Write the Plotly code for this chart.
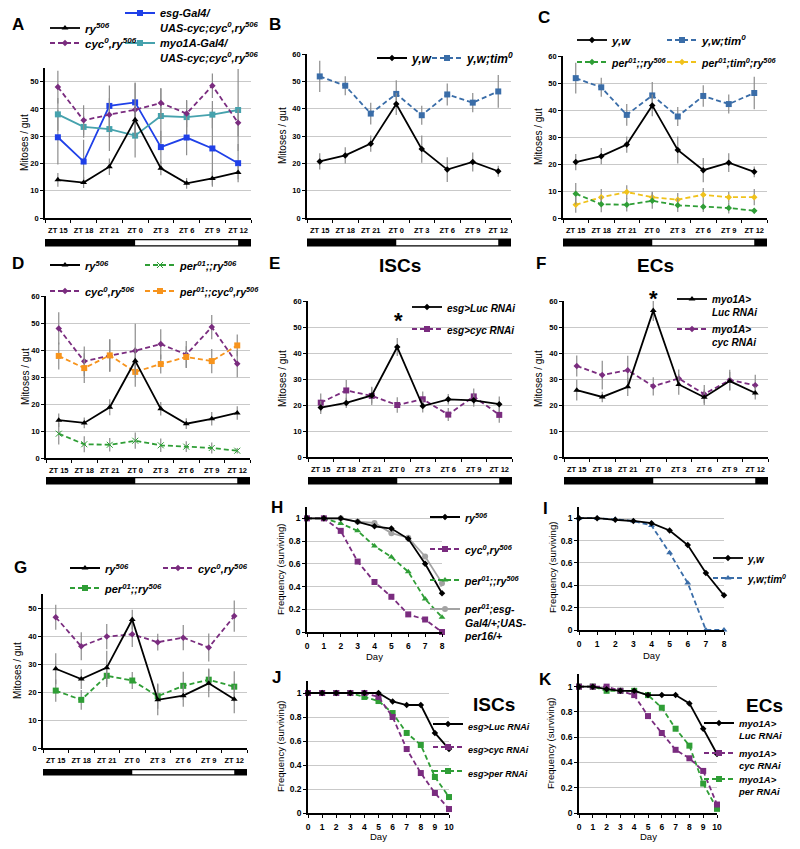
import plotly.graph_objects as go

# ---------------- DATA ----------------
ZT_LABELS = ["ZT 15", "ZT 18", "ZT 21", "ZT 0", "ZT 3", "ZT 6", "ZT 9", "ZT 12"]
LIGHTS_ON = "ZT 0"
LIGHTS_OFF = "ZT 12"

# A / D : ry506, cyc0
RY506 = [14.0, 13.0, 18.8, 36.0, 18.2, 12.7, 14.5, 16.7]
RY506_ERR = [2.5, 2.0, 3.0, 5.0, 2.5, 2.0, 2.5, 2.5]
CYC0 = [48.0, 35.8, 37.9, 39.7, 42.2, 38.3, 48.5, 34.9]
CYC0_ERR = [6.0, 5.5, 6.0, 10.0, 5.5, 5.0, 4.5, 5.0]
# A : rescues
ESG_RESCUE = [29.6, 20.7, 41.1, 42.4, 26.0, 29.5, 25.5, 20.1]
ESG_RESCUE_ERR = [10.0, 8.0, 7.5, 7.0, 6.0, 6.5, 14.0, 7.0]
MYO_RESCUE = [38.0, 33.4, 32.6, 30.2, 37.4, 37.0, 37.9, 39.6]
MYO_RESCUE_ERR = [6.0, 4.0, 8.0, 8.0, 10.0, 6.0, 5.0, 15.0]
# B / C
YW = [20.7, 22.9, 27.2, 41.7, 25.2, 17.7, 20.5, 17.1]
YW_ERR = [3.0, 3.0, 3.0, 4.0, 5.0, 4.5, 3.5, 2.0]
TIM0 = [51.8, 48.4, 38.2, 45.4, 37.6, 45.2, 42.2, 46.3]
TIM0_ERR = [5.7, 3.5, 4.0, 5.0, 3.5, 4.0, 3.5, 6.0]
PER01 = [9.0, 5.1, 4.9, 6.4, 4.7, 4.2, 3.7, 2.7]
PER01_ERR = [4.0, 3.0, 2.5, 3.0, 2.5, 2.0, 2.0, 1.0]
PER01_TIM0 = [4.9, 7.7, 9.6, 7.7, 6.8, 8.6, 7.7, 7.7]
PER01_TIM0_ERR = [3.0, 3.0, 2.5, 2.0, 2.5, 2.5, 2.0, 3.0]
# D
PER01_CYC0 = [37.8, 33.3, 38.0, 31.9, 34.8, 37.4, 35.9, 41.7]
PER01_CYC0_ERR = [5.0, 5.5, 6.0, 5.5, 3.5, 4.0, 4.5, 4.0]
# E
E_LUC = [19.0, 20.8, 23.7, 42.3, 19.6, 22.2, 21.8, 20.3]
E_LUC_ERR = [2.5, 2.0, 3.0, 3.5, 2.5, 2.0, 2.5, 3.0]
E_CYC = [20.9, 25.6, 23.5, 20.0, 22.2, 16.3, 23.3, 16.2]
E_CYC_ERR = [3.5, 4.0, 3.5, 3.0, 3.0, 2.5, 3.0, 3.0]
# F
F_LUC = [25.7, 23.1, 27.0, 56.3, 27.9, 23.0, 29.2, 24.6]
F_LUC_ERR = [4.0, 2.0, 3.5, 4.0, 4.0, 3.0, 3.5, 2.5]
F_CYC = [35.0, 31.5, 33.4, 27.2, 30.2, 24.2, 29.6, 27.6]
F_CYC_ERR = [4.0, 5.5, 5.5, 3.5, 3.5, 3.5, 4.0, 4.0]
# G
G_RY506 = [28.3, 24.6, 28.7, 45.9, 17.2, 18.7, 23.1, 17.4]
G_RY506_ERR = [5.5, 3.5, 6.0, 3.5, 5.5, 4.0, 5.0, 5.0]
G_CYC0 = [46.7, 36.3, 39.8, 40.6, 37.8, 39.4, 35.9, 47.1]
G_CYC0_ERR = [4.5, 5.0, 4.5, 4.5, 3.0, 4.5, 5.0, 5.6]
G_PER01 = [20.5, 17.2, 25.8, 24.1, 18.5, 22.2, 24.4, 21.9]
G_PER01_ERR = [4.0, 3.5, 4.0, 3.0, 4.5, 5.0, 4.0, 5.5]

# survival
DAYS_8 = [0, 1, 2, 3, 4, 5, 6, 7, 8]
DAYS_10 = [0, 1, 2, 3, 4, 5, 6, 7, 8, 9, 10]
H_RY506 = [1, 1, 1, 0.97, 0.93, 0.91, 0.82, 0.60, 0.34]
H_CYC0 = [1, 1, 0.89, 0.62, 0.44, 0.31, 0.155, 0.11, 0.0]
H_PER01 = [1, 1, 0.955, 0.89, 0.757, 0.66, 0.53, 0.29, 0.13]
H_RESCUE = [1, 1, 1, 0.97, 0.96, 0.87, 0.83, 0.665, 0.43]
I_YW = [1, 1, 0.985, 0.975, 0.955, 0.89, 0.76, 0.51, 0.31]
I_TIM0 = [1, 1, 0.99, 0.975, 0.935, 0.69, 0.42, 0.0, 0.0]
J_LUC = [1, 1, 1, 1, 1, 1, 0.93, 0.90, 0.90, 0.667, 0.533]
J_CYC = [1, 1, 1, 1, 1, 0.967, 0.80, 0.533, 0.333, 0.167, 0.033]
J_PER = [1, 1, 1, 1, 0.967, 0.933, 0.833, 0.667, 0.567, 0.30, 0.133]
K_LUC = [1, 1, 0.98, 0.967, 0.967, 0.933, 0.933, 0.933, 0.867, 0.667, 0.467]
K_CYC = [1, 1, 1, 0.967, 0.933, 0.767, 0.633, 0.50, 0.433, 0.333, 0.067]
K_PER = [1, 1, 0.967, 0.967, 0.967, 0.933, 0.833, 0.667, 0.533, 0.233, 0.033]

# ---------------- STYLE / LAYOUT ----------------
W, H = 800, 849
FONT = "Liberation Sans"
BLACK = "#000000"
PURPLE = "#7a2c7f"
BLUE = "#1f40e8"
TEAL = "#46a2ad"
STEEL = "#3a6da8"
GREEN = "#2f9e36"
YELLOW = "#f0c21c"
ORANGE = "#f7941d"
GRAY = "#a3a3a3"
ERR = "#8c8c8c"
DASH = "5px,3px"

ZT_POS = list(range(len(ZT_LABELS)))

layout = dict(width=W, height=H, margin=dict(l=0, r=0, t=0, b=0, autoexpand=False),
              paper_bgcolor="white", plot_bgcolor="white", showlegend=True,
              shapes=[], annotations=[], font=dict(family=FONT, color="black"))
traces = []


def xd(a, b):
    return [a / W, b / W]


def yd(top, bot):
    return [1 - bot / H, 1 - top / H]


axis_n = [0]


def add_axes(x0, x1, ytop, ybot, xrange, yrange, kind):
    axis_n[0] += 1
    n = axis_n[0]
    s = "" if n == 1 else str(n)
    tf = dict(family=FONT, size=7.5 if kind == "zt" else 8.5, color="black", weight="bold")
    xa = dict(domain=xd(x0, x1), anchor="y" + s, range=xrange, showgrid=False, zeroline=False,
              showline=True, linecolor="black", linewidth=1.6, tickfont=tf, fixedrange=True)
    ya = dict(domain=yd(ytop, ybot), anchor="x" + s, range=yrange, showgrid=True,
              gridcolor="#c9c9c9", gridwidth=1, zeroline=False, showline=True,
              linecolor="black", linewidth=1.6, ticks="outside", ticklen=3,
              tickcolor="black", tickwidth=1, tickfont=tf, fixedrange=True)
    if kind == "zt":
        bounds = [p - 0.5 for p in ZT_POS] + [ZT_POS[-1] + 0.5]
        xa.update(tickmode="array", tickvals=ZT_POS, ticktext=ZT_LABELS, ticks="outside",
                  ticklen=0, ticklabelstandoff=4,
                  minor=dict(tickmode="array", tickvals=bounds, ticks="outside",
                             ticklen=3, tickcolor="black", showgrid=False))
        ya.update(tick0=0, dtick=10)
    else:
        xa.update(tick0=0, dtick=1, ticks="outside", ticklen=3, tickcolor="black",
                  ticklabelstandoff=2)
        ya.update(tickmode="array", tickvals=[0, 0.2, 0.4, 0.6, 0.8, 1.0],
                  ticktext=["0", "0.2", "0.4", "0.6", "0.8", "1"])
    layout["xaxis" + s] = xa
    layout["yaxis" + s] = ya
    return ("x" + s, "y" + s)


leg_n = [0]


def new_legend(text_x, line_y, size):
    leg_n[0] += 1
    key = "legend" if leg_n[0] == 1 else "legend%d" % leg_n[0]
    top = line_y - (6.5 + 0.65 * size)
    layout[key] = dict(x=(text_x - 40) / W, y=1 - top / H, xanchor="left", yanchor="top",
                       bgcolor="rgba(0,0,0,0)", borderwidth=0, itemwidth=30, valign="top",
                       font=dict(family=FONT, size=size, color="black"),
                       itemclick=False, itemdoubleclick=False)
    return key


def nm(t):
    return "<b><i>" + t + "</i></b>"


def series(ax, x, y, err, name, color, symbol, dash, legend, msize=6, width=1.8):
    tr = dict(x=x, y=y, xaxis=ax[0], yaxis=ax[1], mode="lines+markers", name=nm(name),
              line=dict(color=color, width=width, dash=dash),
              marker=dict(symbol=symbol, size=msize, color=color, line=dict(width=0)),
              legend=legend, cliponaxis=False, showlegend=True)
    if err is not None:
        tr["error_y"] = dict(type="data", array=err, color=ERR, thickness=1.2, width=0)
    traces.append(go.Scatter(**tr))


def ld_bar(ax, top, bot):
    x0 = ZT_POS[0] - 0.5
    x1 = ZT_POS[-1] + 0.5
    on = ZT_LABELS.index(LIGHTS_ON)
    off = ZT_LABELS.index(LIGHTS_OFF)
    layout["shapes"].append(dict(type="rect", xref=ax[0], yref="paper", x0=x0, x1=x1,
                                 y0=1 - bot / H, y1=1 - top / H, fillcolor="black",
                                 line=dict(width=0), layer="above"))
    layout["shapes"].append(dict(type="rect", xref=ax[0], yref="paper", x0=on, x1=off,
                                 y0=1 - (bot - 1.3) / H, y1=1 - (top + 1.3) / H,
                                 fillcolor="white", line=dict(width=0), layer="above"))


def ann(x, y, text, size, angle=0, bold=True):
    layout["annotations"].append(dict(
        x=x / W, y=1 - y / H, xref="paper", yref="paper", text=text, showarrow=False,
        xanchor="center", yanchor="middle", textangle=angle,
        font=dict(family=FONT, size=size, color="black", weight="bold" if bold else "normal")))


RY = "ry<sup>506</sup>"
CYC = "cyc<sup>0</sup>,ry<sup>506</sup>"
PER = "per<sup>01</sup>;;ry<sup>506</sup>"

# ---- Panel A ----
axA = add_axes(45, 251, 68, 218, [-0.5, 7.5], [0, 55], "zt")
series(axA, ZT_POS, ESG_RESCUE, ESG_RESCUE_ERR, "esg-Gal4/<br>UAS-cyc;" + CYC, BLUE, "square", None, new_legend(160, 13, 11))
series(axA, ZT_POS, MYO_RESCUE, MYO_RESCUE_ERR, "myo1A-Gal4/<br>UAS-cyc;" + CYC, TEAL, "square", None, new_legend(160, 43, 11))
series(axA, ZT_POS, CYC0, CYC0_ERR, CYC, PURPLE, "diamond", DASH, new_legend(85, 43, 11.5), msize=5)
series(axA, ZT_POS, RY506, RY506_ERR, RY, BLACK, "triangle-up", None, new_legend(85, 28, 11.5))
ld_bar(axA, 239, 246.5)

# ---- Panel B ----
axB = add_axes(307, 511, 54, 218, [-0.5, 7.5], [0, 60], "zt")
series(axB, ZT_POS, TIM0, TIM0_ERR, "y,w;tim<sup>0</sup>", STEEL, "square", DASH, new_legend(467, 58, 12))
series(axB, ZT_POS, YW, YW_ERR, "y,w", BLACK, "diamond", None, new_legend(412, 58, 12), msize=5)
ld_bar(axB, 238.5, 246.5)

# ---- Panel C ----
axC = add_axes(563, 767, 56, 218, [-0.5, 7.5], [0, 60], "zt")
series(axC, ZT_POS, TIM0, TIM0_ERR, "y,w;tim<sup>0</sup>", STEEL, "square", DASH, new_legend(702, 40, 11.5))
series(axC, ZT_POS, YW, YW_ERR, "y,w", BLACK, "diamond", None, new_legend(612, 40, 11.5), msize=5)
series(axC, ZT_POS, PER01_TIM0, PER01_TIM0_ERR, "per<sup>01</sup>;tim<sup>0</sup>;ry<sup>506</sup>", YELLOW, "diamond", DASH, new_legend(702, 62, 10.5), msize=5)
series(axC, ZT_POS, PER01, PER01_ERR, PER, GREEN, "diamond", DASH, new_legend(612, 62, 10.5), msize=5)
ld_bar(axC, 238.5, 246.5)

# ---- Panel D ----
axD = add_axes(46, 250, 296, 458, [-0.5, 7.5], [0, 60], "zt")
series(axD, ZT_POS, CYC0, CYC0_ERR, CYC, PURPLE, "diamond", DASH, new_legend(85, 291, 11), msize=5)
series(axD, ZT_POS, PER01_CYC0, PER01_CYC0_ERR, "per<sup>01</sup>;;" + CYC, ORANGE, "square", DASH, new_legend(180, 291, 10.5))
series(axD, ZT_POS, PER01, PER01_ERR, PER, GREEN, "x-thin-open", DASH, new_legend(180, 265, 11), msize=6)
series(axD, ZT_POS, RY506, RY506_ERR, RY, BLACK, "triangle-up", None, new_legend(85, 265, 11))
ld_bar(axD, 477, 484.5)

# ---- Panel E ----
axE = add_axes(308, 512, 301, 457, [-0.5, 7.5], [0, 60], "zt")
series(axE, ZT_POS, E_CYC, E_CYC_ERR, "esg>cyc RNAi", PURPLE, "square", DASH, new_legend(447, 329, 10))
series(axE, ZT_POS, E_LUC, E_LUC_ERR, "esg>Luc RNAi", BLACK, "diamond", None, new_legend(447, 307, 10), msize=5)
ld_bar(axE, 477, 484.5)

# ---- Panel F ----
axF = add_axes(564, 768, 301, 457, [-0.5, 7.5], [0, 60], "zt")
series(axF, ZT_POS, F_CYC, F_CYC_ERR, "myo1A><br>cyc RNAi", PURPLE, "diamond", DASH, new_legend(712, 329, 10), msize=5)
series(axF, ZT_POS, F_LUC, F_LUC_ERR, "myo1A><br>Luc RNAi", BLACK, "triangle-up", None, new_legend(712, 299, 10))
ld_bar(axF, 477, 484.5)

# ---- Panel G ----
axG = add_axes(43, 247, 594, 748, [-0.5, 7.5], [0, 55], "zt")
series(axG, ZT_POS, G_CYC0, G_CYC0_ERR, CYC, PURPLE, "diamond", DASH, new_legend(198, 568, 11), msize=5)
series(axG, ZT_POS, G_PER01, G_PER01_ERR, PER, GREEN, "square", DASH, new_legend(105, 588, 11))
series(axG, ZT_POS, G_RY506, G_RY506_ERR, RY, BLACK, "triangle-up", None, new_legend(105, 568, 11))
ld_bar(axG, 769, 775.5)

# ---- Panel H ----
axH = add_axes(307, 442, 507, 632, [0, 8], [0, 1.1], "day")
series(axH, DAYS_8, H_RESCUE, None, "per<sup>01</sup>;esg-<br>Gal4/+;UAS-<br>per16/+", GRAY, "circle", None, new_legend(465, 609, 10.5), msize=6)
series(axH, DAYS_8, H_PER01, None, PER, GREEN, "triangle-up", DASH, new_legend(465, 580, 10.5))
series(axH, DAYS_8, H_CYC0, None, CYC, PURPLE, "square", DASH, new_legend(465, 549, 10.5))
series(axH, DAYS_8, H_RY506, None, RY, BLACK, "diamond", None, new_legend(465, 517, 10.5), msize=5)

# ---- Panel I ----
axI = add_axes(579, 724, 507, 630, [0, 8], [0, 1.1], "day")
series(axI, DAYS_8, I_TIM0, None, "y,w;tim<sup>0</sup>", STEEL, "triangle-up", DASH, new_legend(748, 578, 10))
series(axI, DAYS_8, I_YW, None, "y,w", BLACK, "diamond", None, new_legend(748, 558, 10), msize=5)

# ---- Panel J ----
axJ = add_axes(308, 449, 681, 813, [0, 10], [0, 1.1], "day")
series(axJ, DAYS_10, J_PER, None, "esg>per RNAi", GREEN, "square", DASH, new_legend(468, 771, 9))
series(axJ, DAYS_10, J_CYC, None, "esg>cyc RNAi", PURPLE, "square", DASH, new_legend(468, 747, 9))
series(axJ, DAYS_10, J_LUC, None, "esg>Luc RNAi", BLACK, "diamond", None, new_legend(468, 724, 9), msize=5)

# ---- Panel K ----
axK = add_axes(579, 717, 674, 813, [0, 10], [0, 1.1], "day")
series(axK, DAYS_10, K_PER, None, "myo1A><br>per RNAi", GREEN, "square", DASH, new_legend(739, 779, 9.5))
series(axK, DAYS_10, K_CYC, None, "myo1A><br>cyc RNAi", PURPLE, "square", DASH, new_legend(739, 753, 9.5))
series(axK, DAYS_10, K_LUC, None, "myo1A><br>Luc RNAi", BLACK, "diamond", None, new_legend(739, 723, 9.5), msize=5)

# ---- text ----
for letter, x, y in [("A", 18, 25), ("B", 275, 25), ("C", 544, 17), ("D", 18, 263),
                     ("E", 274, 263), ("F", 541, 263), ("G", 20, 567), ("H", 277, 507),
                     ("I", 545, 508), ("J", 276, 677), ("K", 545, 679)]:
    ann(x, y, letter, 17)
ann(400, 265, "ISCs", 19)
ann(655, 265, "ECs", 19)
ann(494, 704, "ISCs", 19)
ann(764, 705, "ECs", 19)
ann(398, 320, "*", 22)
ann(653, 298, "*", 22)
for x, y in [(25, 143), (282, 136), (538, 137), (25, 377), (282, 379), (538, 379), (17, 671)]:
    ann(x, y, "Mitoses / gut", 10, angle=-90, bold=False)
for x, y in [(280, 570), (552, 568), (280, 747), (550, 744)]:
    ann(x, y, "Frequency (surviving)", 9.5, angle=-90, bold=False)
for x, y in [(374, 656), (651, 655), (378, 836), (648, 836)]:
    ann(x, y, "Day", 9.5, bold=False)

fig = go.Figure(data=traces, layout=layout)
fig.write_html("out.html", config={"displayModeBar": False},
               post_script="document.body.style.margin='0px';")
